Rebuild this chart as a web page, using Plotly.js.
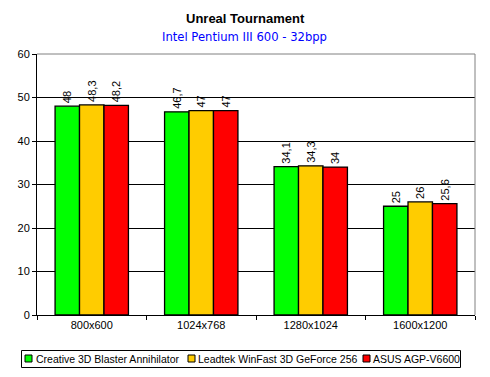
<!DOCTYPE html>
<html><head><meta charset="utf-8">
<script src="https://cdn.plot.ly/plotly-3.0.1.min.js"></script>
<style>html,body{margin:0;padding:0;background:#fff}#c{width:490px;height:377px}</style>
</head><body><div id="c"></div>
<script>
const categories = ["800x600", "1024x768", "1280x1024", "1600x1200"];
const creative = [48, 46.7, 34.1, 25];
const leadtek = [48.3, 47, 34.3, 26];
const asus = [48.2, 47, 34, 25.6];
const seriesNames = ["Creative 3D Blaster Annihilator", "Leadtek WinFast 3D GeForce 256", "ASUS AGP-V6600"];
const colors = ["#00FF00", "#FFCC00", "#FF0000"];
const FONT = "Liberation Sans, Arial, sans-serif";
const fmt = v => String(v).replace('.', ',');
const data = [creative, leadtek, asus].map((vals, i) => ({
  type: 'bar', x: categories, y: vals, name: seriesNames[i],
  marker: {color: colors[i], line: {color: '#000', width: 1.3}},
  text: vals.map(fmt), textposition: 'outside', textangle: -90,
  textfont: {family: FONT, size: 11, color: '#000'}, cliponaxis: false,
  hoverinfo: 'none'
}));
// plot area in px: left 37, right 475, top 54, bottom 315
const L = 37, R = 475, T = 54, B = 315;
const px = x => (x - L) / (R - L);
const py = y => (B - y) / (B - T);
const legendBoxes = [25, 188, 363];
const legendTexts = [35, 197, 372];
const shapes = [
  {type: 'line', xref: 'paper', yref: 'paper', x0: 0, x1: 1, y0: 1, y1: 1, line: {color: '#808080', width: 1}, layer: 'above'},
  {type: 'line', xref: 'paper', yref: 'paper', x0: 1, x1: 1, y0: 0, y1: 1, line: {color: '#808080', width: 1}, layer: 'above'},
  {type: 'rect', xref: 'paper', yref: 'paper', x0: px(21.5), x1: px(460.5), y0: py(350.5), y1: py(367.5), line: {color: '#000', width: 1}, fillcolor: 'rgba(0,0,0,0)'}
];
const annotations = [
  {text: "<b>Unreal Tournament</b>", xref: 'paper', yref: 'paper', x: px(245), y: py(19), xanchor: 'center', yanchor: 'middle', showarrow: false, font: {family: FONT, size: 13, color: '#000'}},
  {text: "Intel Pentium III 600 - 32bpp", xref: 'paper', yref: 'paper', x: px(244), y: py(37), xanchor: 'center', yanchor: 'middle', showarrow: false, font: {family: "DejaVu Sans, sans-serif", size: 11.6, color: '#0000FF'}}
];
seriesNames.forEach((n, i) => {
  shapes.push({type: 'rect', xref: 'paper', yref: 'paper', x0: px(legendBoxes[i]), x1: px(legendBoxes[i] + 7), y0: py(355), y1: py(362), line: {color: '#000', width: 1}, fillcolor: colors[i]});
  annotations.push({text: n, xref: 'paper', yref: 'paper', x: px(legendTexts[i]), y: py(359), xanchor: 'left', yanchor: 'middle', showarrow: false, xshift: -1, font: {family: FONT, size: 10.5, color: '#000'}});
});
const layout = {
  width: 490, height: 377,
  margin: {l: L, r: 490 - R, t: T, b: 377 - B},
  paper_bgcolor: '#fff', plot_bgcolor: '#fff',
  font: {family: FONT, size: 11, color: '#000'},
  barmode: 'group', bargap: 0.33, bargroupgap: 0,
  showlegend: false,
  xaxis: {type: 'category', tickson: 'boundaries', ticks: 'outside', ticklen: 4, tickcolor: '#000',
    showline: true, linecolor: '#000', linewidth: 1, showgrid: false, tickfont: {family: FONT, size: 11}},
  yaxis: {range: [0, 60], dtick: 10, ticks: 'outside', ticklen: 4, tickcolor: '#000', showline: true,
    linecolor: '#000', linewidth: 1, showgrid: true, gridcolor: '#000', gridwidth: 1, zeroline: false,
    tickfont: {family: FONT, size: 11}},
  shapes: shapes, annotations: annotations
};
Plotly.newPlot('c', data, layout, {displayModeBar: false, staticPlot: true});
</script></body></html>
